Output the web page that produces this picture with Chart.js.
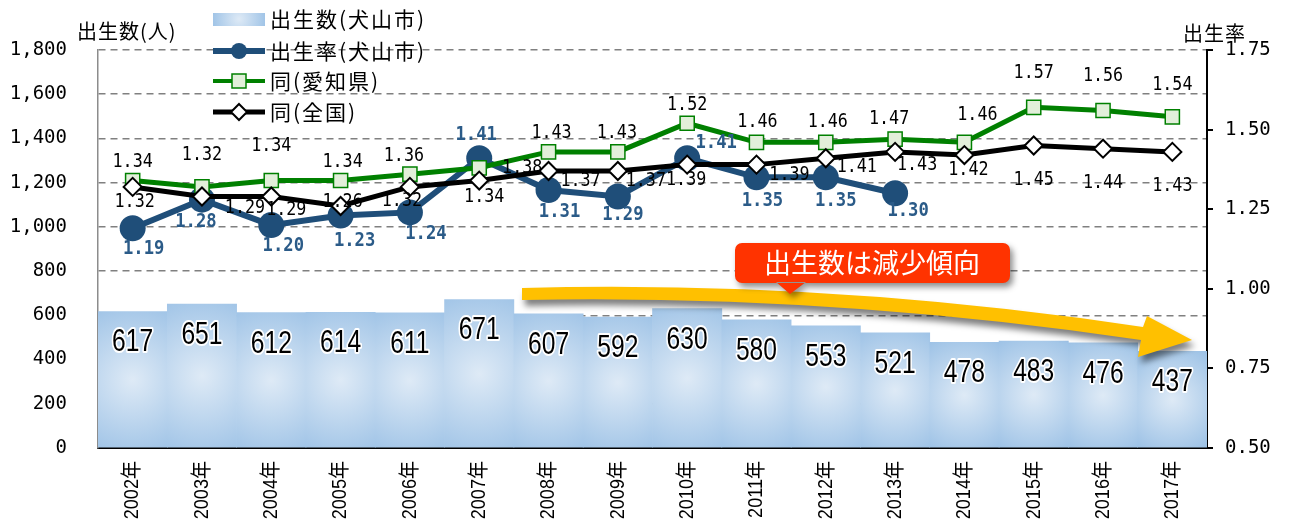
<!DOCTYPE html>
<html>
<head>
<meta charset="utf-8">
<script src="https://cdn.jsdelivr.net/npm/chart.js@4.4.1/dist/chart.umd.min.js"></script>
<style>
html, body { margin: 0; padding: 0; background: #fff; }
#wrap { width: 1290px; height: 525px; position: relative; }
</style>
</head>
<body>
<div id="wrap"><canvas id="chart"></canvas></div>
<script>
const years = ['2002年', '2003年', '2004年', '2005年', '2006年', '2007年', '2008年', '2009年',
    '2010年', '2011年', '2012年', '2013年', '2014年', '2015年', '2016年', '2017年'];
const births = [617, 651, 612, 614, 611, 671, 607, 592, 630, 580, 553, 521, 478, 483, 476, 437];
const rateInuyama = [1.19, 1.28, 1.20, 1.23, 1.24, 1.41, 1.31, 1.29, 1.41, 1.35, 1.35, 1.30, null, null, null, null];
const rateAichi = [1.34, 1.32, 1.34, 1.34, 1.36, 1.38, 1.43, 1.43, 1.52, 1.46, 1.46, 1.47, 1.46, 1.57, 1.56, 1.54];
const rateJapan = [1.32, 1.29, 1.29, 1.26, 1.32, 1.34, 1.37, 1.37, 1.39, 1.39, 1.41, 1.43, 1.42, 1.45, 1.44, 1.43];
const countTicks = [0, 200, 400, 600, 800, 1000, 1200, 1400, 1600, 1800];
const rateTicks = [0.50, 0.75, 1.00, 1.25, 1.50, 1.75];

// label nudges (px) so the numbers sit where the original put them
const inuyamaShift = [[11, 20], [-6, 22], [12, 21], [14, 25], [16, 21], [-3, -23], [11, 22], [5, 18], [29, -15], [6, 23], [10, 23], [13, 18]];
const aichiShift = [[0, -18], [0, -32], [0, -34], [2, -18], [-6, -18], [43, 0], [3, -19], [-1, -19], [0, -18], [1, -20], [2, -20], [-6, -20], [13, -27], [0, -34], [0, -34], [0, -32]];
const japanShift = [[2, 15], [43, 12], [15, 14], [2, -4], [-8, 14], [5, 17], [32, 10], [28, 10], [-1, 15], [33, 10], [31, 9], [22, 13], [4, 15], [0, 35], [0, 34], [0, 34]];

const SANS = "'Liberation Sans', 'Noto Sans CJK JP', sans-serif";
const MONO = "'DejaVu Sans Mono', monospace";
const JP = "'Noto Sans CJK JP', sans-serif";
const BLUE = '#1f4e79';
const GREEN = '#008000';

function barFill(c) {
    const chart = c.chart;
    if (c.type !== 'data' || !chart.chartArea) return '#a9c8e8';
    const x = chart.scales.x.getPixelForValue(c.dataIndex);
    const top = chart.scales.y.getPixelForValue(c.raw);
    const base = chart.scales.y.getPixelForValue(0);
    const cy = (top + base) / 2;
    const g = chart.ctx.createRadialGradient(x, cy, 0, x, cy, (base - top) * 0.6);
    g.addColorStop(0, '#deeaf6');
    g.addColorStop(1, '#9dc2e6');
    return g;
}

function drawText(ctx, text, x, y, font, color, sx, halo) {
    ctx.save();
    ctx.translate(x, y);
    ctx.scale(sx, 1);
    ctx.font = font;
    ctx.textAlign = 'center';
    ctx.textBaseline = 'middle';
    if (halo) {
        ctx.strokeStyle = '#fff';
        ctx.lineWidth = halo;
        ctx.lineJoin = 'round';
        ctx.strokeText(text, 0, 0);
    }
    ctx.fillStyle = color;
    ctx.fillText(text, 0, 0);
    ctx.restore();
}

const valueLabels = {
    id: 'valueLabels',
    afterDatasetsDraw(chart) {
        const ctx = chart.ctx;
        chart.getDatasetMeta(0).data.forEach((bar, i) => {
            drawText(ctx, String(births[i]), bar.x, bar.y + 31, '32px ' + SANS, '#000', 0.77, 4);
        });
        chart.getDatasetMeta(2).data.forEach((p, i) => {
            const s = aichiShift[i];
            drawText(ctx, rateAichi[i].toFixed(2), p.x + s[0], p.y + s[1], '19px ' + MONO, '#000', 0.88);
        });
        chart.getDatasetMeta(3).data.forEach((p, i) => {
            const s = japanShift[i];
            drawText(ctx, rateJapan[i].toFixed(2), p.x + s[0], p.y + s[1], '19px ' + MONO, '#000', 0.88);
        });
        chart.getDatasetMeta(1).data.forEach((p, i) => {
            if (rateInuyama[i] == null) return;
            const s = inuyamaShift[i];
            drawText(ctx, rateInuyama[i].toFixed(2), p.x + s[0], p.y + s[1], 'bold 20px ' + MONO, '#2b5b88', 0.86);
        });
    }
};

const extras = {
    id: 'extras',
    afterDraw(chart) {
        const ctx = chart.ctx;

        // year labels, rotated and slightly condensed
        const xs = chart.scales.x;
        years.forEach((t, i) => {
            ctx.save();
            ctx.translate(xs.getPixelForValue(i), chart.chartArea.bottom + 13);
            ctx.rotate(-Math.PI / 2);
            ctx.scale(0.86, 1);
            ctx.font = '21px ' + SANS;
            ctx.fillStyle = '#000';
            ctx.textAlign = 'right';
            ctx.textBaseline = 'middle';
            ctx.fillText(t, 0, 0);
            ctx.restore();
        });

        // yellow trend arrow
        ctx.save();
        ctx.shadowColor = 'rgba(0,0,0,0.5)';
        ctx.shadowBlur = 6;
        ctx.shadowOffsetX = 3;
        ctx.shadowOffsetY = 6;
        ctx.fillStyle = '#ffc000';
        ctx.beginPath();
        ctx.moveTo(522, 288);
        ctx.quadraticCurveTo(830, 280, 1143, 327);
        ctx.lineTo(1147, 316);
        ctx.lineTo(1192, 340);
        ctx.lineTo(1138, 357);
        ctx.lineTo(1141, 340);
        ctx.quadraticCurveTo(830, 294, 522, 300);
        ctx.closePath();
        ctx.fill();
        ctx.restore();

        // callout
        ctx.save();
        ctx.shadowColor = 'rgba(0,0,0,0.45)';
        ctx.shadowBlur = 6;
        ctx.shadowOffsetX = 3;
        ctx.shadowOffsetY = 4;
        ctx.fillStyle = '#ff3300';
        ctx.beginPath();
        ctx.roundRect(735, 243, 275, 40, 7);
        ctx.moveTo(776, 282);
        ctx.lineTo(790, 294);
        ctx.lineTo(806, 282);
        ctx.closePath();
        ctx.fill();
        ctx.restore();
        drawText(ctx, '出生数は減少傾向', 872, 263, '27px ' + JP, '#fff', 1);

        // axis titles
        ctx.save();
        ctx.fillStyle = '#000';
        ctx.font = '20px ' + JP;
        ctx.letterSpacing = '1px';
        ctx.textBaseline = 'middle';
        ctx.textAlign = 'left';
        ctx.fillText('出生数(人)', 77, 31);
        ctx.fillText('出生率', 1183, 33);
        ctx.restore();

        // legend
        const lx = 213, lw = 52, cx = lx + lw / 2;
        const rows = [19, 51, 81, 112];
        ctx.save();
        const g = ctx.createRadialGradient(cx, rows[0], 0, cx, rows[0], 28);
        g.addColorStop(0, '#deeaf6');
        g.addColorStop(1, '#9dc2e6');
        ctx.fillStyle = g;
        ctx.fillRect(lx, rows[0] - 6, lw, 13);

        ctx.lineCap = 'butt';
        ctx.strokeStyle = BLUE;
        ctx.lineWidth = 6;
        ctx.beginPath(); ctx.moveTo(lx, rows[1]); ctx.lineTo(lx + lw, rows[1]); ctx.stroke();
        ctx.fillStyle = BLUE;
        ctx.beginPath(); ctx.arc(cx, rows[1], 8, 0, Math.PI * 2); ctx.fill();

        ctx.strokeStyle = GREEN;
        ctx.lineWidth = 4;
        ctx.beginPath(); ctx.moveTo(lx, rows[2]); ctx.lineTo(lx + lw, rows[2]); ctx.stroke();
        ctx.fillStyle = '#e2efda';
        ctx.lineWidth = 1.5;
        ctx.fillRect(cx - 7, rows[2] - 7, 14, 14);
        ctx.strokeRect(cx - 7, rows[2] - 7, 14, 14);

        ctx.strokeStyle = '#000';
        ctx.lineWidth = 5;
        ctx.beginPath(); ctx.moveTo(lx, rows[3]); ctx.lineTo(lx + lw, rows[3]); ctx.stroke();
        ctx.fillStyle = '#fff';
        ctx.lineWidth = 2;
        ctx.beginPath();
        ctx.moveTo(cx, rows[3] - 8); ctx.lineTo(cx + 8, rows[3]); ctx.lineTo(cx, rows[3] + 8); ctx.lineTo(cx - 8, rows[3]);
        ctx.closePath(); ctx.fill(); ctx.stroke();

        ctx.fillStyle = '#000';
        ctx.font = '21px ' + JP;
        ctx.letterSpacing = '2px';
        ctx.textBaseline = 'middle';
        ctx.textAlign = 'left';
        ['出生数(犬山市)', '出生率(犬山市)', '同(愛知県)', '同(全国)'].forEach((t, i) => {
            ctx.fillText(t, lx + lw + 5, rows[i]);
        });
        ctx.restore();
    }
};

const chart = new Chart(document.getElementById('chart'), {
    type: 'bar',
    data: {
        labels: years,
        datasets: [{
            type: 'bar',
            label: '出生数(犬山市)',
            data: births,
            yAxisID: 'y',
            backgroundColor: barFill,
            barPercentage: 1,
            categoryPercentage: 1,
            order: 4
        }, {
            type: 'line',
            label: '出生率(犬山市)',
            data: rateInuyama,
            yAxisID: 'y1',
            borderColor: BLUE,
            borderWidth: 6,
            pointStyle: 'circle',
            pointRadius: 13,
            pointBackgroundColor: BLUE,
            pointBorderColor: BLUE,
            pointBorderWidth: 0,
            spanGaps: false,
            order: 3
        }, {
            type: 'line',
            label: '同(愛知県)',
            data: rateAichi,
            yAxisID: 'y1',
            borderColor: GREEN,
            borderWidth: 5,
            pointStyle: 'rect',
            pointRadius: 10,
            pointBackgroundColor: '#e2efda',
            pointBorderColor: GREEN,
            pointBorderWidth: 1.5,
            order: 2
        }, {
            type: 'line',
            label: '同(全国)',
            data: rateJapan,
            yAxisID: 'y1',
            borderColor: '#000',
            borderWidth: 5,
            pointStyle: 'rectRot',
            pointRadius: 9,
            pointBackgroundColor: '#fff',
            pointBorderColor: '#000',
            pointBorderWidth: 2,
            order: 1
        }]
    },
    options: {
        responsive: true,
        maintainAspectRatio: false,
        animation: false,
        devicePixelRatio: 1,
        layout: { padding: { top: 50, left: 0, right: 0, bottom: 0 } },
        plugins: { legend: { display: false }, tooltip: { enabled: false } },
        scales: {
            x: {
                z: 1,
                grid: { display: false },
                border: { color: '#000', width: 2 },
                afterFit: s => { s.height = 77; },
                ticks: { display: false }
            },
            y: {
                position: 'left',
                min: 0,
                max: 1800,
                afterBuildTicks: s => { s.ticks = countTicks.map(v => ({ value: v })); },
                afterFit: s => { s.width = 98; },
                grid: { color: '#808080', lineWidth: 1.5, drawTicks: false },
                border: { color: '#8c8c8c', width: 1.5, dash: [7, 5] },
                ticks: { padding: 31, color: '#000', font: { family: MONO, size: 19 }, callback: v => v.toLocaleString('en-US') }
            },
            y1: {
                z: 1,
                position: 'right',
                min: 0.5,
                max: 1.75,
                afterBuildTicks: s => { s.ticks = rateTicks.map(v => ({ value: v })); },
                afterFit: s => { s.width = 83; },
                grid: { drawOnChartArea: false, color: '#000', lineWidth: 2, tickLength: 6 },
                border: { color: '#000', width: 2 },
                ticks: { padding: 12, color: '#000', font: { family: MONO, size: 19 }, callback: v => v.toFixed(2) }
            }
        }
    },
    plugins: [valueLabels, extras]
});
</script>
</body>
</html>
